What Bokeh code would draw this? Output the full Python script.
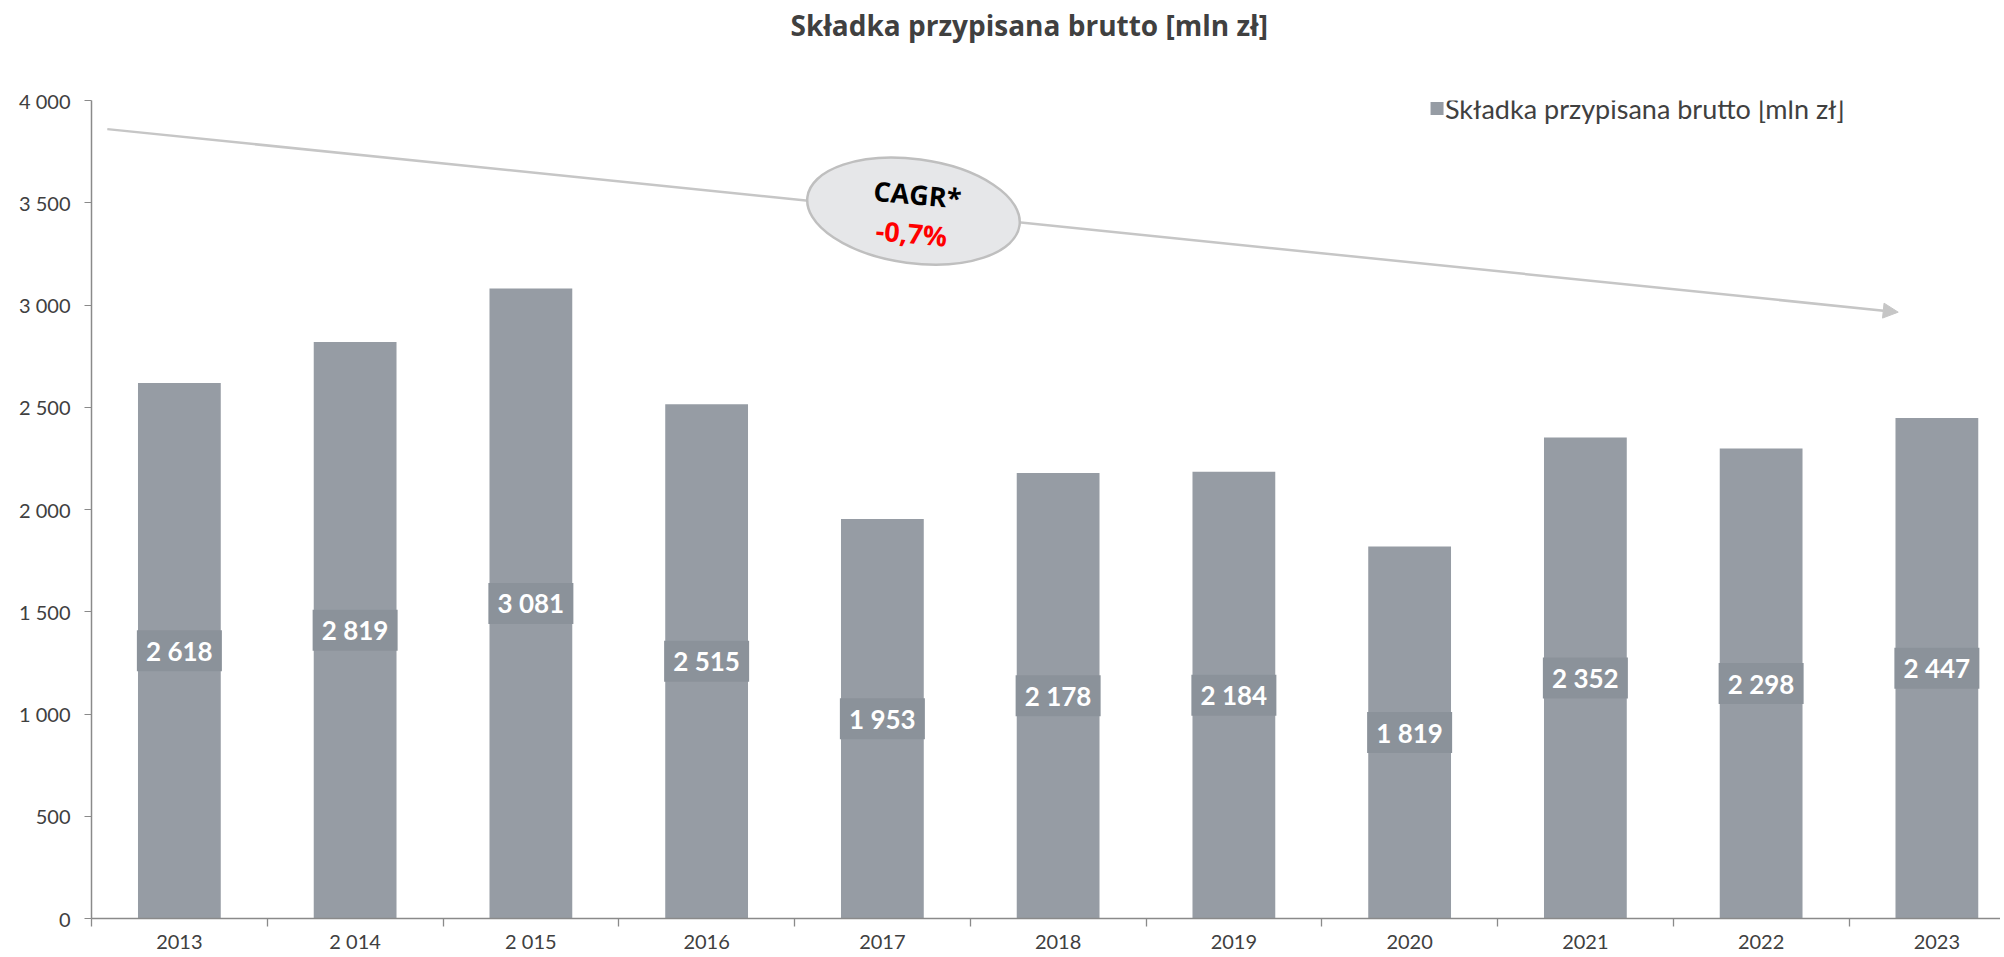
import numpy as np
from bokeh.plotting import figure
from bokeh.models import Range1d, FixedTicker, Arrow, NormalHead, Label, ColumnDataSource, Title
from bokeh.core.properties import value
from bokeh.embed import file_html
from bokeh.resources import INLINE

# ---- data ----
years = ["2013", "2014", "2015", "2016", "2017", "2018", "2019", "2020", "2021", "2022", "2023"]
x_tick_labels = ["2013", "2 014", "2 015", "2016", "2017", "2018", "2019", "2020", "2021", "2022", "2023"]
premium = [2618, 2819, 3081, 2515, 1953, 2178, 2184, 1819, 2352, 2298, 2447]
y_ticks = [0, 500, 1000, 1500, 2000, 2500, 3000, 3500, 4000]
y_tick_labels = ["0", "500", "1 000", "1 500", "2 000", "2 500", "3 000", "3 500", "4 000"]
series_name = "Składka przypisana brutto [mln zł]"
chart_title = "Składka przypisana brutto [mln zł]"
cagr_label = "CAGR*"
cagr_value = "-0,7%"

# ---- layout constants (annotation placement) ----
TREND_START = (0.09, 3860)
TREND_END = (10.28, 2965)
BUBBLE_CENTER = (4.677, 3459)
CAGR_LABEL_POS = (4.70, 3542)
CAGR_VALUE_POS = (4.666, 3352)
LEGEND_POS = (7.656, 3961)

FONT = "Lato"
TITLE_FONT = "Open Sans"
BAR_COLOR = "#969ca4"
BOX_COLOR = "#8b929a"
TEXT_COLOR = "#404040"
AXIS_COLOR = "#8a8a8a"

xs = [i + 0.5 for i in range(len(years))]
labels = [f"{v:,}".replace(",", " ") for v in premium]
src = ColumnDataSource(dict(x=xs, top=premium, mid=[v / 2 for v in premium], label=labels))

p = figure(width=2000, height=955, output_backend="svg", toolbar_location=None,
           x_range=Range1d(0, 10.862), y_range=Range1d(0, 4000), title_location=None,
           min_border_left=91, min_border_right=0, min_border_top=100, min_border_bottom=35)
p.outline_line_color = None
p.background_fill_color = "white"
p.border_fill_color = "white"
p.xgrid.visible = False
p.ygrid.visible = False

# spacer between frame and title, then the title itself
p.add_layout(Title(text=" ", text_font=FONT, text_font_size="46px", standoff=0), "above")
p.add_layout(Title(text=chart_title, align="left", offset=699, standoff=0,
                   text_font=TITLE_FONT, text_font_style="bold", text_font_size="28px",
                   text_color=TEXT_COLOR), "above")

# trend arrow (under the bubble)
arrow = Arrow(x_start=TREND_START[0], y_start=TREND_START[1], x_end=TREND_END[0], y_end=TREND_END[1],
              line_color="#c6c6c6", line_width=2.5,
              end=NormalHead(size=15, fill_color="#c6c6c6", line_color="#c6c6c6"))
arrow.level = "underlay"
p.add_layout(arrow)

# bars
p.vbar(x="x", top="top", width=0.471, bottom=0, source=src, fill_color=BAR_COLOR, line_color=None)

# value label boxes
p.rect(x="x", y="mid", width=85, height=41, width_units="screen", height_units="screen",
       source=src, fill_color=BOX_COLOR, line_color=None)
p.text(x="x", y="mid", text="label", source=src, text_color="white", text_font=value(FONT),
       text_font_style="bold", text_font_size="26px", text_align="center", text_baseline="middle")

# CAGR bubble
p.ellipse(x=[BUBBLE_CENTER[0]], y=[BUBBLE_CENTER[1]], width=214, height=104,
          width_units="screen", height_units="screen", angle=-0.133,
          fill_color="#e6e7e9", line_color="#bfbfbf", line_width=2.5)
p.add_layout(Label(x=CAGR_LABEL_POS[0], y=CAGR_LABEL_POS[1], text=cagr_label, text_color="black",
                   text_font=TITLE_FONT, text_font_style="bold", text_font_size="27px",
                   text_align="center", text_baseline="middle", angle=-0.09))
p.add_layout(Label(x=CAGR_VALUE_POS[0], y=CAGR_VALUE_POS[1], text=cagr_value, text_color="#ff0000",
                   text_font=TITLE_FONT, text_font_style="bold", text_font_size="27px",
                   text_align="center", text_baseline="middle", angle=-0.09))

# legend (manual)
p.scatter(x=[LEGEND_POS[0]], y=[LEGEND_POS[1]], marker="square", size=13,
          fill_color=BAR_COLOR, line_color=None)
p.add_layout(Label(x=LEGEND_POS[0] + 0.045, y=LEGEND_POS[1], text=series_name, text_color=TEXT_COLOR,
                   text_font=FONT, text_font_size="27px", text_baseline="middle"))

# axes
xa = p.xaxis[0]
xa.ticker = FixedTicker(ticks=xs, minor_ticks=list(range(len(years))))
xa.major_label_overrides = {x: lab for x, lab in zip(xs, x_tick_labels)}
xa.major_tick_line_color = None
xa.major_tick_out = 0
xa.major_tick_in = 0
xa.minor_tick_out = 8
xa.minor_tick_in = 0
xa.minor_tick_line_color = AXIS_COLOR
xa.minor_tick_line_width = 1.3
xa.axis_line_color = AXIS_COLOR
xa.axis_line_width = 1.5
xa.major_label_text_font = FONT
xa.major_label_text_font_size = "20px"
xa.major_label_text_color = TEXT_COLOR
xa.major_label_standoff = 2

ya = p.yaxis[0]
ya.ticker = FixedTicker(ticks=y_ticks)
ya.major_label_overrides = {t: lab for t, lab in zip(y_ticks, y_tick_labels)}
ya.major_tick_out = 7
ya.major_tick_in = 0
ya.minor_tick_line_color = None
ya.major_tick_line_color = AXIS_COLOR
ya.axis_line_color = AXIS_COLOR
ya.axis_line_width = 1.5
ya.major_label_text_font = FONT
ya.major_label_text_font_size = "20px"
ya.major_label_text_color = TEXT_COLOR
ya.major_label_standoff = 14

open("out.html", "w").write(file_html(p, INLINE))
